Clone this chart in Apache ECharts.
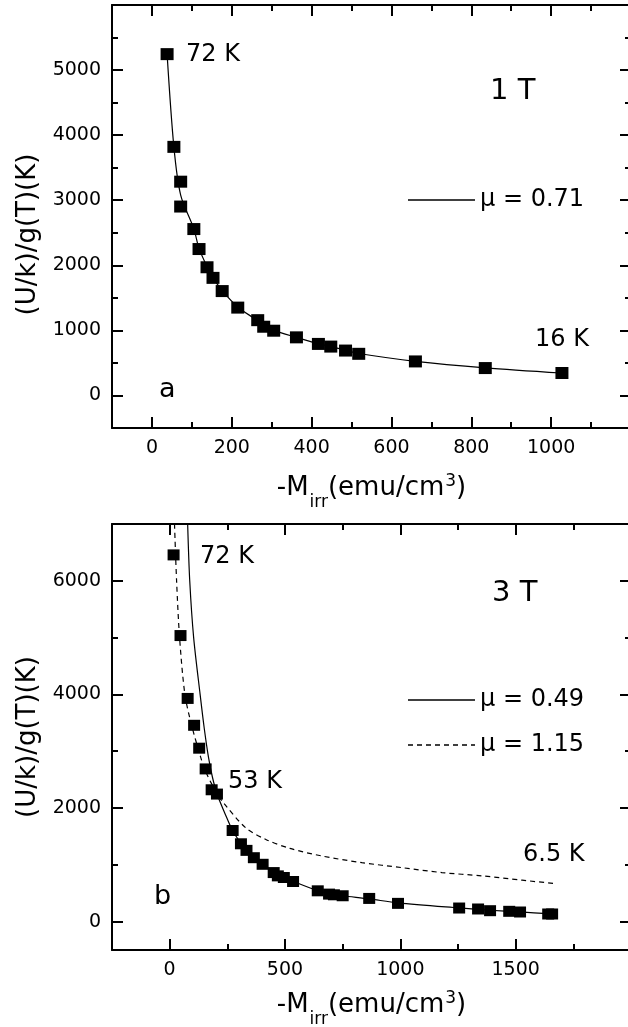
<!DOCTYPE html>
<html>
<head>
<meta charset="utf-8">
<script src="https://cdn.jsdelivr.net/npm/echarts@6/dist/echarts.min.js"></script>
<style>
html, body { margin: 0; padding: 0; background: #fff; }
#chart { width: 628px; height: 1027px; }
</style>
</head>
<body>
<div id="chart"></div>
<script>
var FONT = 'DejaVu Sans, Verdana, sans-serif';

// panel a (1 T)
var aPoints = [[38, 5245], [55, 3820], [72, 3285], [72, 2903], [105, 2557], [118, 2250], [138, 1970],
    [153, 1807], [176, 1604], [215, 1350], [265, 1157], [280, 1056], [305, 995], [362, 893], [417, 792],
    [448, 751], [485, 690], [518, 640], [660, 523], [835, 421], [1027, 345]];
var aFit071 = [[38, 5245], [55, 3820], [72, 3080], [105, 2560], [118, 2260], [138, 1980], [153, 1810],
    [176, 1610], [215, 1360], [265, 1150], [290, 1050], [305, 1000], [362, 893], [417, 795], [448, 750],
    [485, 695], [518, 645], [660, 525], [835, 425], [1027, 345]];
var aXMajor = [0, 200, 400, 600, 800, 1000, 1200];
var aXMinor = [100, 300, 500, 700, 900, 1100];
var aXLabels = [0, 200, 400, 600, 800, 1000];
var aYMajor = [0, 1000, 2000, 3000, 4000, 5000, 6000];
var aYMinor = [500, 1500, 2500, 3500, 4500, 5500];
var aYLabels = [0, 1000, 2000, 3000, 4000, 5000];

// panel b (3 T)
var bPoints = [[17, 6456], [47, 5036], [78, 3929], [106, 3456], [128, 3053], [156, 2688], [182, 2321],
    [205, 2245], [273, 1604], [309, 1370], [333, 1254], [365, 1125], [403, 1009], [451, 863], [469, 805],
    [495, 776], [535, 706], [642, 542], [691, 484], [712, 472], [750, 455], [865, 408], [990, 321],
    [1255, 239], [1337, 222], [1389, 192], [1472, 181], [1519, 169], [1641, 134], [1658, 134]];
var bFit049 = [[78, 7000], [87, 6000], [104, 5000], [132, 4000], [150, 3400], [168, 2900], [185, 2550],
    [205, 2250], [240, 1900], [273, 1600], [309, 1380], [333, 1260], [365, 1130], [403, 1010], [451, 870],
    [495, 780], [535, 710], [642, 545], [712, 480], [750, 455], [865, 400], [990, 330], [1255, 240],
    [1389, 200], [1519, 170], [1658, 135]];
var bFit115 = [[21, 7000], [30, 6000], [43, 5000], [66, 4000], [95, 3460], [134, 2900], [156, 2640],
    [208, 2233], [234, 2088], [330, 1650], [417, 1446], [521, 1289], [660, 1155], [833, 1038],
    [1007, 950], [1180, 863], [1354, 805], [1528, 729], [1667, 671]];
var bXMajor = [0, 500, 1000, 1500, 2000];
var bXMinor = [250, 750, 1250, 1750];
var bXLabels = [0, 500, 1000, 1500];
var bYMajor = [0, 2000, 4000, 6000];
var bYMinor = [1000, 3000, 5000];
var bYLabels = [0, 2000, 4000, 6000];

var chart = echarts.init(document.getElementById('chart'));

var xName = '{n|-M}{sub|irr}{n|(emu/cm}{sup|3}{n|)}';
var yName = '(U/k)/g(T)(K)';

function nameStyle() {
    return {
        color: '#000', fontFamily: FONT, fontSize: 26,
        rich: {
            n: {fontSize: 26, lineHeight: 28, fontFamily: FONT, color: '#000'},
            sub: {fontSize: 17, lineHeight: 17, padding: [30, 0, 0, 1], fontFamily: FONT, color: '#000'},
            sup: {fontSize: 17, lineHeight: 17, padding: [0, 0, 13, 1], fontFamily: FONT, color: '#000'}
        }
    };
}

// one side of the frame: a major axis (line, long ticks, labels) + a minor axis (short ticks)
function side(grid, pos, min, max, major, minor, labels, name, nameGap, namePad) {
    var main = {
        type: 'value', gridIndex: grid, position: pos, min: min, max: max,
        axisLine: {show: true, onZero: false, lineStyle: {color: '#000', width: 2}},
        axisTick: {show: true, inside: true, length: 11, customValues: major, lineStyle: {color: '#000', width: 2}},
        axisLabel: {show: false},
        splitLine: {show: false}
    };
    if (labels) {
        main.axisLabel = {
            show: true, customValues: labels, margin: 11, color: '#000', fontFamily: FONT, fontSize: 19,
            formatter: function (v) { return String(v); }
        };
    }
    if (name) {
        main.name = name;
        main.nameLocation = 'middle';
        main.nameGap = nameGap;
        main.nameTextStyle = nameStyle();
        if (namePad) main.nameTextStyle.padding = namePad;
    }
    var sub = {
        type: 'value', gridIndex: grid, position: pos, min: min, max: max,
        axisLine: {show: false, onZero: false},
        axisTick: {show: true, inside: true, length: 6, customValues: minor, lineStyle: {color: '#000', width: 2}},
        axisLabel: {show: false},
        splitLine: {show: false}
    };
    return [main, sub];
}

var xAxes = [].concat(
    side(0, 'bottom', -100, 1200, aXMajor, aXMinor, aXLabels, xName, 46),
    side(0, 'top', -100, 1200, aXMajor, aXMinor),
    side(1, 'bottom', -250, 2000, bXMajor, bXMinor, bXLabels, xName, 41),
    side(1, 'top', -250, 2000, bXMajor, bXMinor)
);
var yAxes = [].concat(
    side(0, 'left', -500, 6000, aYMajor, aYMinor, aYLabels, yName, 69, [0, 36, 0, 0]),
    side(0, 'right', -500, 6000, aYMajor, aYMinor),
    side(1, 'left', -500, 7000, bYMajor, bYMinor, bYLabels, yName, 69),
    side(1, 'right', -500, 7000, bYMajor, bYMinor)
);
yAxes.forEach(function (a) { a.nameRotate = 90; });

function txt(x, y, s, size) {
    return {type: 'text', x: x, y: y,
        style: {text: s, fill: '#000', fontFamily: FONT, fontSize: size, align: 'left', verticalAlign: 'middle'}};
}

// legend samples: thin solid bar and dashed bar
var solidIcon = 'path://M0,0h67v1.3h-67z';
var dashedIcon = 'path://';
for (var d = 0; d < 67; d += 9) {
    dashedIcon += 'M' + d + ',0h' + Math.min(5, 67 - d) + 'v1.3h-' + Math.min(5, 67 - d) + 'z';
}

var legendText = {fontFamily: FONT, fontSize: 24, color: '#000', lineHeight: 24};

chart.setOption({
    backgroundColor: '#fff',
    animation: false,
    grid: [
        {left: 112, top: 5, width: 519, height: 423, outerBoundsMode: 'none'},
        {left: 112, top: 524, width: 519, height: 426, outerBoundsMode: 'none'}
    ],
    xAxis: xAxes,
    yAxis: yAxes,
    legend: [
        {data: [{name: 'μ = 0.71', icon: solidIcon}], left: 408, top: 188, padding: 0,
            itemWidth: 67, itemHeight: 1.3, itemGap: 0, textStyle: legendText},
        {data: [{name: 'μ = 0.49', icon: solidIcon}, {name: 'μ = 1.15', icon: dashedIcon}],
            orient: 'vertical', left: 408, top: 688, padding: 0,
            itemWidth: 67, itemHeight: 1.3, itemGap: 21, textStyle: legendText}
    ],
    graphic: [
        txt(186, 55, '72 K', 24),
        txt(490, 91, '1 T', 29),
        txt(535, 340, '16 K', 24),
        txt(159, 390, 'a', 27),
        txt(200, 557, '72 K', 24),
        txt(492, 593, '3 T', 29),
        txt(228, 782, '53 K', 24),
        txt(523, 855, '6.5 K', 24),
        txt(154, 897, 'b', 27)
    ],
    series: [
        {name: 'μ = 0.71', type: 'line', xAxisIndex: 0, yAxisIndex: 0, data: aFit071, smooth: 0.3,
            symbol: 'none', lineStyle: {color: '#000', width: 1.2}, itemStyle: {color: '#000'}, z: 3},
        {name: 'a', type: 'scatter', xAxisIndex: 0, yAxisIndex: 0, data: aPoints, symbol: 'rect',
            symbolSize: [13, 12], itemStyle: {color: '#000', opacity: 1}, z: 4},
        {name: 'μ = 0.49', type: 'line', xAxisIndex: 4, yAxisIndex: 4, data: bFit049, smooth: 0.3,
            symbol: 'none', lineStyle: {color: '#000', width: 1.2}, itemStyle: {color: '#000'}, z: 3},
        {name: 'μ = 1.15', type: 'line', xAxisIndex: 4, yAxisIndex: 4, data: bFit115, smooth: 0.3,
            symbol: 'none', lineStyle: {color: '#000', width: 1.2, type: [5, 4]}, itemStyle: {color: '#000'}, z: 3},
        {name: 'b', type: 'scatter', xAxisIndex: 4, yAxisIndex: 4, data: bPoints, symbol: 'rect',
            symbolSize: [12, 11], itemStyle: {color: '#000', opacity: 1}, z: 4}
    ]
});
</script>
</body>
</html>
